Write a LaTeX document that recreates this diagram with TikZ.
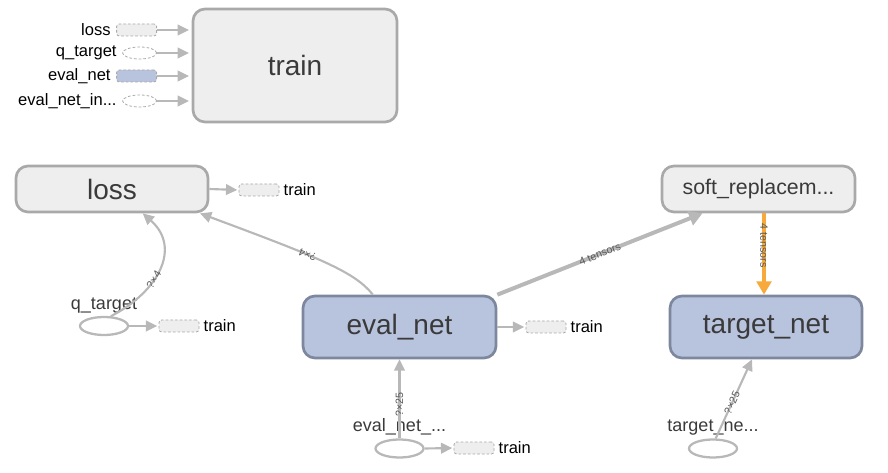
\documentclass[tikz,border=0pt]{standalone}
\usepackage{fontspec}
\setmainfont{Liberation Sans}
\usetikzlibrary{positioning,arrows.meta,shapes.geometric}
\definecolor{boxgray}{HTML}{EEEEEE}
\definecolor{linegray}{HTML}{A9A9A9}
\definecolor{edgegray}{HTML}{B8B8B8}
\definecolor{netblue}{HTML}{B8C3DD}
\definecolor{netline}{HTML}{7D879D}
\definecolor{flow}{HTML}{F7A93B}
\definecolor{txt}{HTML}{3A3A3A}
\begin{document}
\begin{tikzpicture}[x=0.75pt, y=-0.75pt, >={Triangle[length=8.5pt,width=8pt]},
	opnode/.style={rectangle, rounded corners=9pt, draw=linegray, fill=boxgray, line width=2pt, text=txt, inner sep=0pt, font=\fontsize{21}{24}\selectfont},
	netnode/.style={opnode, draw=netline, fill=netblue, minimum width=144.75pt, minimum height=46.5pt},
	refbox/.style={rectangle, rounded corners=2pt, draw=linegray, dash pattern=on 2pt off 1.5pt, fill=boxgray, line width=0.6pt, minimum width=30pt, minimum height=9pt, inner sep=0pt},
	refnet/.style={refbox, fill=netblue},
	refell/.style={ellipse, draw=linegray, dash pattern=on 2pt off 1.5pt, fill=white, line width=0.6pt, minimum width=25.5pt, minimum height=9pt, inner sep=0pt},
	inputnode/.style={ellipse, draw=edgegray, fill=white, line width=1.7pt, minimum width=36pt, minimum height=13.5pt, inner sep=0pt},
	smalltxt/.style={text=black, inner sep=2pt, font=\fontsize{12.4}{14}\selectfont},
	nametxt/.style={text=txt, inner sep=2pt, font=\fontsize{13.5}{15}\selectfont},
	dataedge/.style={->, draw=edgegray, line width=1.6pt},
	bigedge/.style={dataedge, line width=3pt, >={Triangle[length=10pt,width=11pt]}},
	shapelbl/.style={sloped, allow upside down, text=black!65, inner sep=0.5pt, font=\fontsize{8}{9}\selectfont}]
	
	\useasboundingbox (0,0) rectangle (888,473);
	
	% Train node with its inputs
	\node[opnode, minimum width=153pt, minimum height=84.75pt] (train) at (295,65.5) {train};
	
	\foreach \n/\t/\s/\y in {inloss/loss/refbox/30, inq/{q\_target}/refell/53, ineval/{eval\_net}/refnet/76, inevalin/{eval\_net\_in...}/refell/101}
	{
		\node[\s, anchor=east] (\n) at (157,\y) {};
		\node[smalltxt, left=2pt of \n] (\n-lbl) {\t};
		\draw[dataedge, shorten >=2pt] (\n.east) -- (\n.east -| train.west);
	}
	
	% Main graph
	\node[opnode, minimum width=144pt, minimum height=34.5pt] (loss) at (112,189) {loss};
	\node[opnode, minimum width=144.75pt, minimum height=34.5pt, font=\fontsize{16}{19}\selectfont] (soft) at (758.5,189) {soft\_replacem...};
	\node[netnode] (evalnet) at (399.5,327) {eval\_net};
	\node[netnode, minimum width=144pt] (targetnet) at (766,327) {target\_net};
	
	% Inputs
	\node[inputnode] (qtarget) at (104,326) {};
	\node[nametxt, above=0pt of qtarget] (qtarget-lbl) {q\_target};
	\node[inputnode] (evalin) at (399.5,448.5) {};
	\node[nametxt, above=0pt of evalin] (evalin-lbl) {eval\_net\_...};
	\node[inputnode] (targetin) at (713,448.5) {};
	\node[nametxt, above=0pt of targetin] (targetin-lbl) {target\_ne...};
	
	% References to train
	\node[refbox] (lossout) at (259,190) {};
	\node[smalltxt, right=1pt of lossout] (lossout-lbl) {train};
	\node[refbox] (qout) at (179,326) {};
	\node[smalltxt, right=1pt of qout] (qout-lbl) {train};
	\node[refbox] (evalout) at (546,327) {};
	\node[smalltxt, right=1pt of evalout] (evalout-lbl) {train};
	\node[refbox] (evalinout) at (474,448) {};
	\node[smalltxt, right=1pt of evalinout] (evalinout-lbl) {train};
	
	\foreach \a/\b in {loss/lossout, qtarget/qout, evalnet/evalout, evalin/evalinout}
	\draw[dataedge, shorten >=1pt] (\a.east) -- (\b.west);
	
	% Connections
	\draw[dataedge] (qtarget.55) .. controls (158,292) and (182,248) .. ([xshift=23pt]loss.south)
		node[shapelbl, pos=0.4] {?×4};
	\draw[dataedge] ([xshift=-20pt]evalnet.north) .. controls (355,272) and (320,258) .. ([xshift=66pt]loss.south)
		node[shapelbl, pos=0.6] {?×4};
	\draw[bigedge] (evalnet.north east) -- ([xshift=-42pt]soft.south)
		node[shapelbl, midway] {4 tensors};
	\draw[bigedge, draw=flow, fill=flow] ([xshift=-1.5pt]soft.south -| targetnet.north) -- ([xshift=-1.5pt]targetnet.north)
		node[shapelbl, pos=0.4] {4 tensors};
	\draw[dataedge] (evalin.north) -- (evalnet.south)
		node[shapelbl, pos=0.43] {?×25};
	\draw[dataedge] (targetin.75) -- ([xshift=-10.5pt]targetnet.south)
		node[shapelbl, pos=0.45] {?×25};
	
\end{tikzpicture}
\end{document}
